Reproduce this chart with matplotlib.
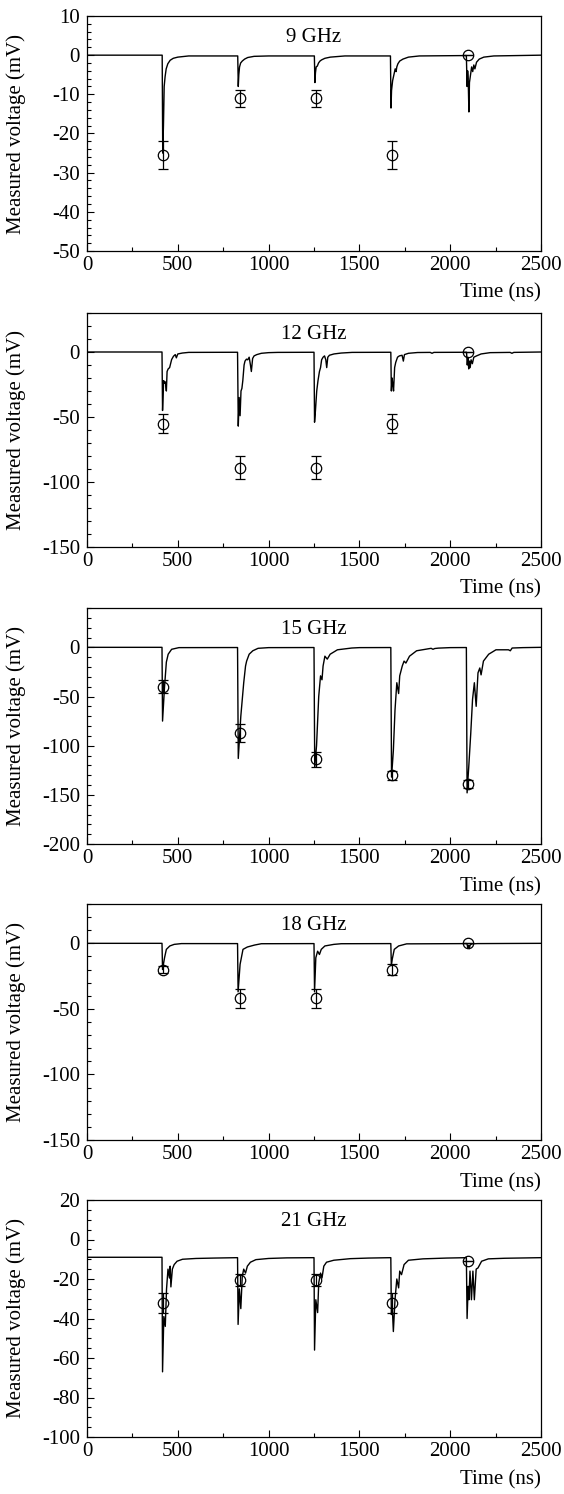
import matplotlib
matplotlib.use('Agg')
import matplotlib.pyplot as plt
from matplotlib.ticker import MultipleLocator

# pulse times (ns) where the circles sit
marker_t = [420, 840, 1260, 1680, 2100]

# 9 GHz
trace_t_9 = [0, 414, 417, 421, 425, 430, 436, 445, 458, 475, 500, 560,
             830, 833, 836, 840, 846, 855, 868, 885, 920, 1000,
             1252, 1255, 1258, 1262, 1268, 1275, 1283, 1292, 1310, 1340, 1420,
             1671, 1674, 1677, 1683, 1690, 1697, 1702, 1706, 1712, 1722, 1740, 1770, 1830,
             2089, 2093, 2096, 2099, 2103, 2106, 2112, 2118, 2124, 2130, 2136, 2145, 2160, 2185, 2240, 2500]
trace_v_9 = [0, 0, -25, -18, -8, -5.5, -3.5, -2.2, -1.3, -0.8, -0.5, -0.2,
             -0.2, -8, -5, -3, -2, -1.5, -1, -0.6, -0.3, -0.2,
             -0.2, -7, -4.5, -3, -2.8, -2, -1.5, -1.2, -0.8, -0.5, -0.2,
             -0.2, -13.5, -9, -6.5, -5, -3.5, -4.2, -3, -2.2, -1.5, -1, -0.5, -0.2,
             -0.1, -8, -4, -6, -14.5, -7, -5, -3, -4.2, -2.5, -3.5, -1.8, -1, -0.5, -0.2, 0]
marker_v_9 = [-25.5, -11, -11, -25.5, 0]
marker_e_9 = [3.5, 2.2, 2.2, 3.5, 0]

# 12 GHz
trace_t_12 = [0, 413, 416, 422, 427, 432, 437, 441, 447, 455, 466, 476, 486, 492, 500, 525, 560,
              829, 833, 838, 843, 848, 853, 858, 865, 870, 878, 885, 893, 900, 905, 912, 920, 935, 960, 1000, 1050,
              1250, 1253, 1258, 1265, 1272, 1280, 1286, 1292, 1300, 1308, 1315, 1320, 1326, 1335, 1360, 1400, 1460,
              1673, 1676, 1680, 1684, 1688, 1694, 1700, 1710, 1720, 1735, 1742, 1748, 1770, 1820,
              1890, 1900, 1910,
              2090, 2094, 2098, 2102, 2106, 2110, 2115, 2122, 2130, 2145, 2170, 2220, 2330, 2340, 2350, 2500]
trace_v_12 = [0, 0, -45, -22, -24, -23, -30, -15, -13, -12, -5.8, -3.3, -2, -4.5, -1.5, -0.8, -0.3,
              -0.2, -57, -35, -49, -30, -28, -22, -10, -7, -5.5, -6, -4, -10, -15, -5, -3, -2, -1, -0.5, -0.3,
              -0.2, -54, -45, -30, -22, -15, -12, -6, -4, -3, -6, -12, -4, -2.5, -1.5, -0.8, -0.3,
              -0.2, -30, -20, -25, -30, -12, -8, -4, -3, -2.5, -7, -2, -1, -0.4,
              -0.3, -1, -0.3,
              -0.2, -10, -4, -13, -7, -12, -6, -9, -4, -3, -1.5, -0.5, -0.3, -1, -0.3, 0]
marker_v_12 = [-55, -89, -89, -55, 0]
marker_e_12 = [7, 9, 9, 7, 0]

# 15 GHz
trace_t_15 = [0, 413, 416, 427, 437, 447, 466, 506,
              829, 833, 847, 863, 873, 879, 893, 913, 942, 1000,
              1250, 1254, 1264, 1276, 1286, 1294, 1300, 1310, 1323, 1339, 1379, 1458, 1500,
              1673, 1677, 1687, 1696, 1706, 1716, 1722, 1736, 1746, 1756, 1776, 1815, 1895, 1905, 1915, 1935, 2000,
              2089, 2093, 2103, 2113, 2123, 2133, 2143, 2153, 2163, 2170, 2183, 2212, 2252, 2321, 2331, 2341, 2400, 2500]
trace_v_15 = [0, 0, -75, -40, -15, -7, -2, -0.3,
              -0.2, -113, -70, -36, -19, -14, -7, -3.5, -1, -0.3,
              -0.2, -122, -100, -50, -29, -33, -19, -9, -12, -7, -2.5, -0.7, -0.3,
              -0.2, -132, -105, -64, -36, -47, -29, -19, -14, -16, -9, -3.5, -1, -2, -1.2, -0.8, -0.3,
              -0.2, -148, -119, -88, -53, -36, -60, -26, -21, -28, -14, -7, -2.5, -2.5, -3.5, -0.7, -0.3, 0]
marker_v_15 = [-40, -87, -114, -130, -139]
marker_e_15 = [6.5, 9.5, 7.5, 4.5, 4]

# 18 GHz
trace_t_18 = [0, 413, 416, 427, 437, 456, 480, 520,
              829, 832, 843, 859, 883, 923, 960,
              1250, 1253, 1260, 1270, 1280, 1290, 1310, 1359, 1400,
              1673, 1676, 1681, 1692, 1716, 1760,
              2092, 2097, 2101, 2105, 2110, 2120, 2150, 2500]
trace_v_18 = [0, 0, -20, -11, -4.6, -2, -0.8, -0.2,
              -0.2, -37, -16, -4.6, -2.8, -1.3, -0.3,
              -0.2, -37, -11, -6, -8.5, -4.6, -2, -0.8, -0.3,
              -0.2, -17, -12, -4.6, -2, -0.4,
              -0.2, -3.3, -1.5, -4, -1.2, -0.4, -0.2, 0]
marker_v_18 = [-20, -42, -42, -20, 0]
marker_e_18 = [3, 7, 7, 4, 0]

# 21 GHz
trace_t_21 = [0, 413, 416, 423, 431, 438, 446, 454, 458, 462, 470, 480, 496, 526, 600, 700,
              829, 832, 839, 847, 855, 863, 873, 883, 900, 930, 1000, 1100,
              1250, 1253, 1260, 1270, 1276, 1286, 1294, 1304, 1319, 1359, 1450, 1550,
              1673, 1676, 1681, 1687, 1696, 1706, 1716, 1722, 1732, 1746, 1770, 1850, 1980,
              2089, 2093, 2099, 2103, 2109, 2117, 2125, 2133, 2143, 2153, 2173, 2210, 2300, 2500]
trace_v_21 = [-9, -9, -67, -39, -44, -25, -15, -19.5, -13.5, -24, -15, -12.7, -11, -10, -9.6, -9.4,
              -9.2, -43, -25, -35, -18.6, -15, -17, -13.5, -11.5, -10.2, -9.6, -9.3,
              -9.2, -56, -30.5, -37, -22, -17, -19.5, -13.5, -11.5, -10.5, -9.7, -9.4,
              -9.2, -38, -34, -46.6, -30.5, -20, -24.5, -16, -17.8, -12.7, -10.5, -9.8, -9.4,
              -9.2, -40, -23.7, -30.5, -16, -30.5, -16, -30.5, -15, -14.4, -11, -9.8, -9.5, -9.2]
marker_v_21 = [-32, -20.5, -20.5, -32, -11]
marker_e_21 = [5, 3, 3, 5, 0]

panels = [
    ('9 GHz', trace_t_9, trace_v_9, marker_v_9, marker_e_9, (-50, 10), 10, 2),
    ('12 GHz', trace_t_12, trace_v_12, marker_v_12, marker_e_12, (-150, 30), 50, 10),
    ('15 GHz', trace_t_15, trace_v_15, marker_v_15, marker_e_15, (-200, 40), 50, 10),
    ('18 GHz', trace_t_18, trace_v_18, marker_v_18, marker_e_18, (-150, 30), 50, 10),
    ('21 GHz', trace_t_21, trace_v_21, marker_v_21, marker_e_21, (-100, 20), 20, 5),
]

# axes top/bottom in pixels of the 1494 px tall figure
panel_px = [(16, 251), (313, 547), (608, 844), (904, 1140), (1200, 1437)]

plt.rcParams['font.family'] = ['Liberation Serif', 'DejaVu Serif']
plt.rcParams['font.size'] = 15
plt.rcParams['axes.unicode_minus'] = False


def main() -> None:
    W, H = 564, 1494
    fig = plt.figure(figsize=(W / 100, H / 100), dpi=100)
    left, right = 87, 541

    for (title, tt, vv, mv, me, ylim, major, minor), (top, bot) in zip(panels, panel_px):
        ax = fig.add_axes([left / W, 1 - bot / H, (right - left) / W, (bot - top) / H])
        ax.plot(tt, vv, color='black', lw=1.0)
        ax.errorbar(marker_t, mv, yerr=me, fmt='o', ms=7.5, mfc='none', mec='black',
                    mew=0.9, ecolor='black', elinewidth=0.9, capsize=3.5, capthick=0.9)
        ax.set_xlim(0, 2500)
        ax.set_ylim(*ylim)
        ax.xaxis.set_major_locator(MultipleLocator(500))
        ax.xaxis.set_minor_locator(MultipleLocator(250))
        ax.yaxis.set_major_locator(MultipleLocator(major))
        ax.yaxis.set_minor_locator(MultipleLocator(minor))
        ax.tick_params(which='both', direction='in', top=False, right=False, labelsize=15)
        ax.tick_params(which='major', length=5, width=0.8)
        ax.tick_params(which='minor', length=3, width=0.8)
        ax.tick_params(axis='y', pad=5)
        for sp in ax.spines.values():
            sp.set_linewidth(0.9)

        ax.text(0.5, 0.91, title, transform=ax.transAxes, ha='center', va='center', fontsize=15)

        ax.set_ylabel('Measured voltage (mV)', fontsize=15)
        ax.yaxis.set_label_coords(-0.135, 0.5)
        ax.set_xlabel('Time (ns)', fontsize=15)
        ax.xaxis.label.set_ha('right')
        ax.xaxis.label.set_va('center')
        ax.xaxis.set_label_coords(1.0, -0.18)

    fig.savefig('out.png', dpi=100)


if __name__ == '__main__':
    main()
